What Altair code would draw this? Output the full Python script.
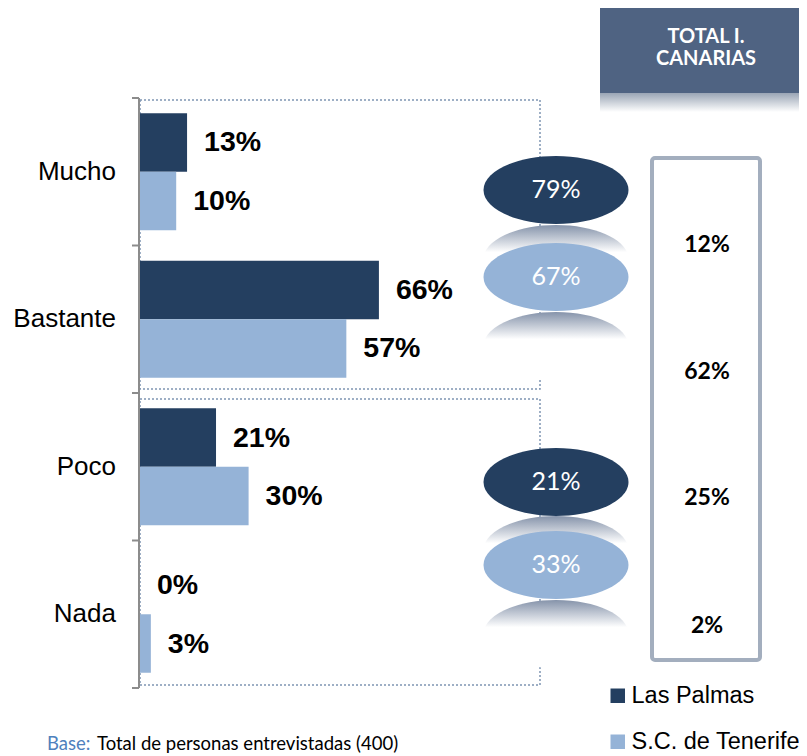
import altair as alt
import pandas as pd

# ---------------- data ----------------
categories = ["Mucho", "Bastante", "Poco", "Nada"]
series = ["Las Palmas", "S.C. de Tenerife"]
las_palmas = [13, 66, 21, 0]
tenerife = [10, 57, 30, 3]
total_canarias = [12, 62, 25, 2]
group_las_palmas = [79, 21]   # Mucho+Bastante, Poco+Nada
group_tenerife = [67, 33]
header_lines = ["TOTAL I.", "CANARIAS"]
footnote_label = "Base:"
footnote_text = "Total de personas entrevistadas (400)"

colors = ["#243F60", "#95B3D7"]

rows = []
for i, c in enumerate(categories):
    rows.append({"category": c, "series": series[0], "value": las_palmas[i]})
    rows.append({"category": c, "series": series[1], "value": tenerife[i]})
bars_df = pd.DataFrame(rows)
bars_df["label"] = bars_df["value"].astype(str) + "%"

W, H = 791, 748

x_scale = alt.Scale(domain=[0, 100], range=[132, 494])
y_scale = alt.Scale(domain=categories, range=[90, 680], paddingInner=0.207, paddingOuter=0.1034)
yoff_scale = alt.Scale(domain=series, paddingInner=0, paddingOuter=0)

one = pd.DataFrame({"k": [0]})
layers = []

# dotted group frames
for (y0, y1) in [(92, 381), (391, 677)]:
    layers.append(
        alt.Chart(one).mark_rect(fillOpacity=0, stroke="#7F95B3", strokeDash=[2, 2], strokeWidth=1.5).encode(
            x=alt.value(132), x2=alt.value(532), y=alt.value(y0), y2=alt.value(y1)
        )
    )

# axis line and ticks
layers.append(
    alt.Chart(one).mark_rule(color="#8C8C8C", strokeWidth=2).encode(
        x=alt.value(131), y=alt.value(90), y2=alt.value(680)
    )
)
for ty in [90, 237.5, 385, 532.5, 680]:
    layers.append(
        alt.Chart(one).mark_rule(color="#8C8C8C", strokeWidth=2).encode(
            x=alt.value(124), x2=alt.value(131), y=alt.value(ty)
        )
    )

# bars
bars = alt.Chart(bars_df).mark_bar().encode(
    x=alt.X("value:Q", scale=x_scale, axis=None),
    y=alt.Y("category:N", scale=y_scale, axis=None, sort=categories),
    yOffset=alt.YOffset("series:N", scale=yoff_scale, sort=series),
    color=alt.Color(
        "series:N",
        scale=alt.Scale(domain=series, range=colors),
        legend=alt.Legend(
            title=None, orient="none", legendX=598, legendY=676,
            symbolType="square", symbolSize=210, symbolStrokeWidth=0,
            labelFontSize=23.5, labelFont="Liberation Sans", labelColor="black",
            rowPadding=21, labelOffset=2, padding=0, labelLimit=300,
        ),
    ),
)
layers.append(bars)

# bar value labels
layers.append(
    alt.Chart(bars_df).mark_text(
        align="left", baseline="middle", dx=17, fontSize=28.5, fontWeight="bold",
        font="Liberation Sans", color="black"
    ).encode(
        x=alt.X("value:Q", scale=x_scale, axis=None),
        y=alt.Y("category:N", scale=y_scale, axis=None, sort=categories),
        yOffset=alt.YOffset("series:N", scale=yoff_scale, sort=series),
        text="label:N",
    )
)

# category labels
layers.append(
    alt.Chart(pd.DataFrame({"category": categories})).mark_text(
        align="right", baseline="middle", fontSize=26, font="Liberation Sans", color="black"
    ).encode(
        y=alt.Y("category:N", scale=y_scale, axis=None, sort=categories),
        x=alt.value(108),
        text="category:N",
    )
)

# ellipses with reflections
ellipse = "M -1 0 A 1 0.469 0 1 0 1 0 A 1 0.469 0 1 0 -1 0 Z"
ell_size = 145 * 145
refl_grad = alt.Gradient(
    gradient="linear", x1=0, y1=0, x2=0, y2=1,
    stops=[alt.GradientStop(offset=0, color="#8593AA"),
           alt.GradientStop(offset=0.4, color="#FFFFFF")],
)
for ry in [251, 338, 542, 626]:
    layers.append(
        alt.Chart(one).mark_point(shape=ellipse, size=ell_size, filled=True, fill=refl_grad,
                                  opacity=1, strokeWidth=0).encode(
            x=alt.value(548), y=alt.value(ry)
        )
    )

ell_items = []
for g in range(2):
    ell_items.append((group_las_palmas[g], colors[0], [182, 474][g]))
    ell_items.append((group_tenerife[g], colors[1], [269, 557][g]))
for val, col, ey in ell_items:
    df = pd.DataFrame({"label": [f"{val}%"]})
    layers.append(
        alt.Chart(df).mark_point(shape=ellipse, size=ell_size, filled=True, fill=col,
                                 opacity=1, strokeWidth=0).encode(
            x=alt.value(548), y=alt.value(ey)
        )
    )
    layers.append(
        alt.Chart(df).mark_text(align="center", baseline="middle", fontSize=25, font="Lato",
                                color="white").encode(
            x=alt.value(548), y=alt.value(ey), text="label:N"
        )
    )

# total box
layers.append(
    alt.Chart(one).mark_rect(fill="white", stroke="#A3AEBE", strokeWidth=4, cornerRadius=3).encode(
        x=alt.value(644), x2=alt.value(752), y=alt.value(150), y2=alt.value(652)
    )
)
for v, ty in zip(total_canarias, [237, 364, 490, 618]):
    layers.append(
        alt.Chart(pd.DataFrame({"label": [f"{v}%"]})).mark_text(
            align="center", baseline="middle", fontSize=23, fontWeight="bold", font="Lato", color="black"
        ).encode(x=alt.value(699), y=alt.value(ty), text="label:N")
    )

# header
layers.append(
    alt.Chart(one).mark_rect(
        fill=alt.Gradient(gradient="linear", x1=0, y1=0, x2=0, y2=1,
                          stops=[alt.GradientStop(offset=0, color="#9AA5B5"),
                                 alt.GradientStop(offset=1, color="#FFFFFF")])
    ).encode(x=alt.value(592), x2=alt.value(791), y=alt.value(85), y2=alt.value(104))
)
layers.append(
    alt.Chart(one).mark_rect(fill="#4F6382").encode(
        x=alt.value(592), x2=alt.value(791), y=alt.value(0), y2=alt.value(85)
    )
)
for line, ly in zip(header_lines, [29, 51]):
    layers.append(
        alt.Chart(pd.DataFrame({"label": [line]})).mark_text(
            align="center", baseline="middle", fontSize=20, fontWeight="bold", font="Lato", color="white"
        ).encode(x=alt.value(698), y=alt.value(ly), text="label:N")
    )

# footnote
layers.append(
    alt.Chart(pd.DataFrame({"label": [footnote_label]})).mark_text(
        align="left", baseline="alphabetic", fontSize=18.5, font="Lato", color="#4F81BD"
    ).encode(x=alt.value(39), y=alt.value(742), text="label:N")
)
layers.append(
    alt.Chart(pd.DataFrame({"label": [footnote_text]})).mark_text(
        align="left", baseline="alphabetic", fontSize=18.5, font="Lato", color="black"
    ).encode(x=alt.value(89), y=alt.value(742), text="label:N")
)

chart = alt.layer(*layers).properties(
    width=W, height=H, autosize=alt.AutoSizeParams(type="none"), padding=0, background="white"
).configure_view(strokeWidth=0)

chart.save("out.html", embed_options={"renderer": "svg", "actions": False})
